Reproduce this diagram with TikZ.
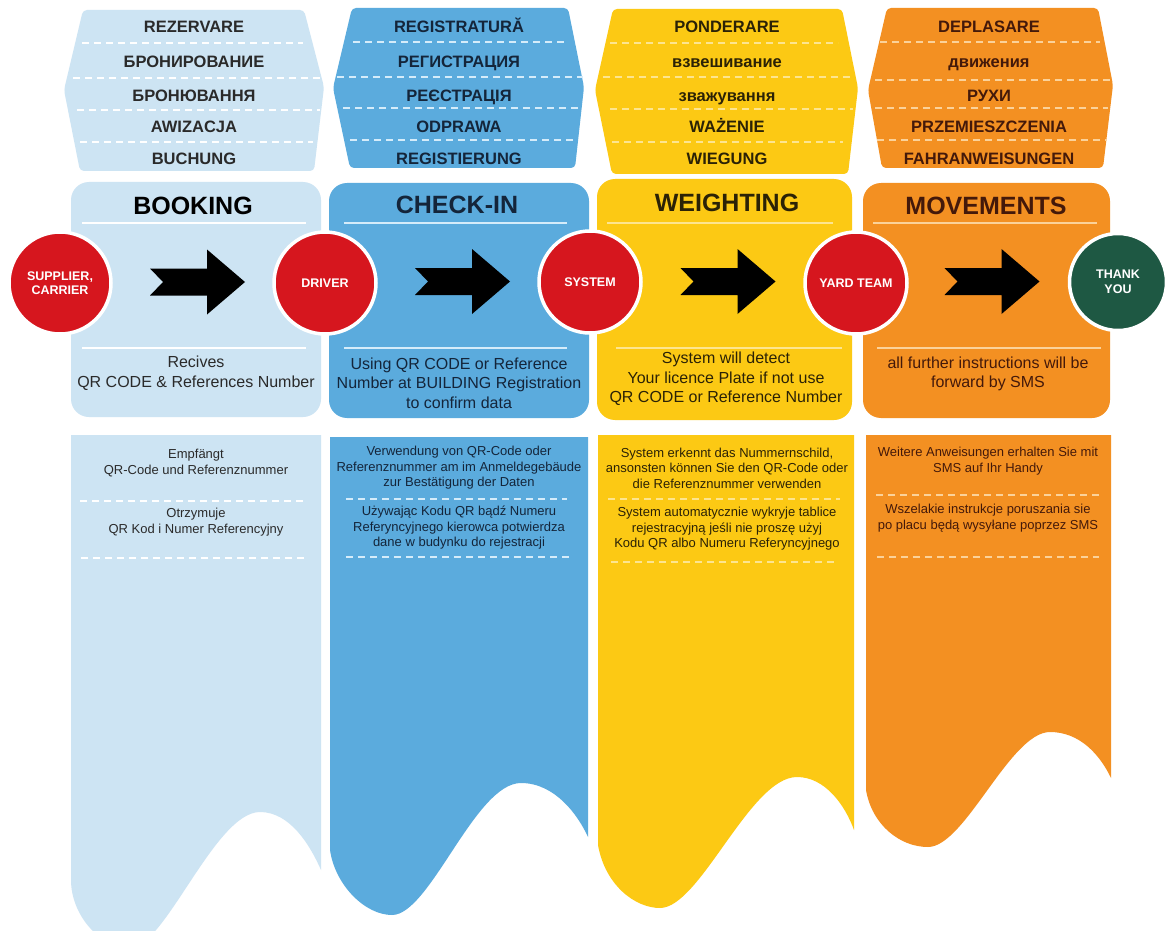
\documentclass[tikz,border=0pt]{standalone}
\usepackage{fontspec}
\setmainfont{Liberation Sans}
\usetikzlibrary{calc}
\definecolor{lblue}{HTML}{CDE4F3}
\definecolor{mblue}{HTML}{5BABDD}
\definecolor{yel}{HTML}{FCC914}
\definecolor{ora}{HTML}{F39022}
\definecolor{cred}{HTML}{D6161E}
\definecolor{cgreen}{HTML}{1E5843}
\definecolor{tA}{HTML}{2A2A2A}
\definecolor{tB}{HTML}{14253A}
\definecolor{tC}{HTML}{2B2206}
\definecolor{tD}{HTML}{44190A}
\definecolor{dA}{HTML}{FFFFFF}
\definecolor{dB}{HTML}{D5ECFA}
\definecolor{dC}{HTML}{FDE590}
\definecolor{dD}{HTML}{FBD29A}
\tikzset{
  hdr/.style={font=\fontsize{16.5}{18}\selectfont\bfseries, text height=11.8pt, text depth=0pt, inner sep=0pt},
  ttl/.style={font=\fontsize{25}{28}\selectfont\bfseries, text height=17.9pt, text depth=0pt, inner sep=0pt},
  midtxt/.style={font=\fontsize{16}{19.5}\selectfont, align=center, inner sep=0pt},
  lowtxt/.style={font=\fontsize{13}{15.5}\selectfont, align=center, inner sep=0pt},
  actor/.style={circle, minimum size=102pt, inner sep=0pt, fill=cred, draw=white, line width=3.5pt, text=white, font=\fontsize{12.5}{14.5}\selectfont\bfseries, align=center},
  sep/.style={line width=2pt, dash pattern=on 7pt off 5pt},
  rule/.style={line width=2pt},
  blockarrow/.pic={\fill[black] (-47.5,-13.5) -- (9.5,-13.5) -- (9.5,-32.5) -- (47.5,0) -- (9.5,32.5) -- (9.5,13.5) -- (-47.5,13.5) -- (-34.5,0) -- cycle;}
}
\newcommand\hdrcol[8]{%
  \node[hdr,text=#3] (h#1a) at (#2,27) {#4};
  \node[hdr,text=#3] (h#1b) at (#2,62) {#5};
  \node[hdr,text=#3] (h#1c) at (#2,96) {#6};
  \node[hdr,text=#3] (h#1d) at (#2,127) {#7};
  \node[hdr,text=#3] (h#1e) at (#2,159) {#8};
}
\begin{document}
\begin{tikzpicture}[x=1pt,y=-1pt]
\useasboundingbox (0,0) rectangle (1176,931);
\clip (0,0) rectangle (1176,931);
\fill[white] (0,0) rectangle (1176,931);

% ---------- header hexagons ----------
\fill[lblue, rounded corners=4pt] (83,10) -- (304,10) -- (324,87) -- (314,171) -- (80,171) -- (64,90) -- cycle;
\fill[mblue, rounded corners=4pt] (352,8) -- (568,8) -- (584,87) -- (575,168) -- (350,168) -- (333,88) -- cycle;
\fill[yel, rounded corners=4pt] (613,9) -- (842,9) -- (858,88) -- (848,174) -- (612,174) -- (595,90) -- cycle;
\fill[ora, rounded corners=4pt] (887,8) -- (1098,8) -- (1113,85) -- (1103,168) -- (882,168) -- (868,90) -- cycle;

% header separators
\draw[sep, dA] (82,43) -- (303,43);  \draw[sep, dA] (73,78) -- (323,78);
\draw[sep, dA] (77,110) -- (320,110); \draw[sep, dA] (80,142) -- (313,142);
\draw[sep, dB] (353,42) -- (565,42);  \draw[sep, dB] (337,77) -- (583,77);
\draw[sep, dB] (343,108) -- (582,108); \draw[sep, dB] (350,140) -- (575,140);
\draw[sep, dC] (610,43) -- (838,43);  \draw[sep, dC] (603,77) -- (853,77);
\draw[sep, dC] (610,109) -- (853,109); \draw[sep, dC] (612,142) -- (843,142);
\draw[sep, dD] (880,42) -- (1100,42); \draw[sep, dD] (875,80) -- (1112,80);
\draw[sep, dD] (875,108) -- (1108,108); \draw[sep, dD] (877,140) -- (1107,140);

\hdrcol{1}{194}{tA}{REZERVARE}{БРОНИРОВАНИЕ}{БРОНЮВАННЯ}{AWIZACJA}{BUCHUNG}
\hdrcol{2}{459}{tB}{REGISTRATURĂ}{РЕГИСТРАЦИЯ}{РЕЄСТРАЦІЯ}{ODPRAWA}{REGISTIERUNG}
\hdrcol{3}{727}{tC}{PONDERARE}{взвешивание}{зважування}{WAŻENIE}{WIEGUNG}
\hdrcol{4}{989}{tD}{DEPLASARE}{движения}{РУХИ}{PRZEMIESZCZENIA}{FAHRANWEISUNGEN}

% ---------- middle boxes ----------
\fill[lblue, rounded corners=18pt] (71,182) rectangle (321,417);
\fill[mblue, rounded corners=18pt] (329,183) rectangle (589,418);
\fill[yel, rounded corners=18pt] (597,179) rectangle (852,420);
\fill[ora, rounded corners=18pt] (863,183) rectangle (1110,418);

\draw[rule, dA] (82,223) -- (306,223);   \draw[rule, dA] (82,348) -- (306,348);
\draw[rule, dB] (344,223) -- (567,223);  \draw[rule, dB] (344,348) -- (567,348);
\draw[rule, dC] (607,223) -- (833,223);  \draw[rule, dC] (616,348) -- (842,348);
\draw[rule, dD] (873,223) -- (1097,223); \draw[rule, dD] (877,348) -- (1101,348);

\node[ttl, text=black] (t1) at (193,206) {BOOKING};
\node[ttl, text=tB] (t2) at (457,205) {CHECK-IN};
\node[ttl, text=tC] (t3) at (727,203) {WEIGHTING};
\node[ttl, text=tD] (t4) at (986,206) {MOVEMENTS};

\node[midtxt, text=tA] (m1) at (196,373) {Recives\\QR CODE \& References Number};
\node[midtxt, text=tB] (m2) at (459,383) {Using QR CODE or Reference\\Number at BUILDING Registration\\to confirm data};
\node[midtxt, text=tC] (m3) at (726,379) {System will detect\\Your licence Plate if not use\\QR CODE or Reference Number};
\node[midtxt, text=tD] (m4) at (988,374) {all further instructions will be\\forward by SMS};

% ---------- lower panels ----------
\fill[lblue] (71,435) -- (321,435) -- (321,870) .. controls (310,845) and (290,812) .. (260,812) .. controls (215,812) and (165,948) .. (130,948) .. controls (100,948) and (71,915) .. (71,880) -- cycle;
\fill[mblue] (330,437) -- (588,437) -- (588,837) .. controls (578,815) and (555,783) .. (521,783) .. controls (475,783) and (430,915) .. (392,915) .. controls (365,915) and (335,885) .. (330,850) -- cycle;
\fill[yel] (598,435) -- (854,435) -- (854,830) .. controls (845,805) and (825,777) .. (797,777) .. controls (750,777) and (700,908) .. (660,908) .. controls (635,908) and (605,885) .. (598,845) -- cycle;
\fill[ora] (866,435) -- (1111,435) -- (1111,778) .. controls (1100,755) and (1080,732) .. (1050,732) .. controls (1010,732) and (965,847) .. (928,847) .. controls (900,847) and (872,825) .. (866,790) -- cycle;

\draw[sep, dA] (80,501) -- (303,501);  \draw[sep, dA] (81,558) -- (306,558);
\draw[sep, dB] (346,499) -- (567,499); \draw[sep, dB] (346,557) -- (569,557);
\draw[sep, dC] (608,499) -- (840,499); \draw[sep, dC] (611,562) -- (836,562);
\draw[sep, dD] (876,495) -- (1099,495); \draw[sep, dD] (877,557) -- (1099,557);

\node[lowtxt, text=tA] (l1a) at (196,463) {Empfängt\\QR-Code und Referenznummer};
\node[lowtxt, text=tA] (l1b) at (196,522) {Otrzymuje\\QR Kod i Numer Referencyjny};
\node[lowtxt, text=tB] (l2a) at (459,468) {Verwendung von QR-Code oder\\Referenznummer am im Anmeldegebäude\\zur Bestätigung der Daten};
\node[lowtxt, text=tB] (l2b) at (459,528) {Używając Kodu QR bądź Numeru\\Referyncyjnego kierowca potwierdza\\dane w budynku do rejestracji};
\node[lowtxt, text=tC] (l3a) at (727,468) {System erkennt das Nummernschild,\\ansonsten können Sie den QR-Code oder\\die Referenznummer verwenden};
\node[lowtxt, text=tC] (l3b) at (727,529) {System automatycznie wykryje tablice\\rejestracyjną jeśli nie proszę użyj\\Kodu QR albo Numeru Referyncyjnego};
\node[lowtxt, text=tD] (l4a) at (988,461) {Weitere Anweisungen erhalten Sie mit\\SMS auf Ihr Handy};
\node[lowtxt, text=tD] (l4b) at (988,518) {Wszelakie instrukcje poruszania sie\\po placu będą wysyłane poprzez SMS};

% ---------- actors ----------
\node[actor] (c1) at (60,283) {SUPPLIER,\\CARRIER};
\node[actor] (c2) at (325,283) {DRIVER};
\node[actor] (c3) at (590,282) {SYSTEM};
\node[actor] (c4) at (856,283) {YARD TEAM};
\node[actor, fill=cgreen, minimum size=97pt] (c5) at (1118,282) {THANK\\YOU};

\pic at ($(c1)!0.5!(c2)+(5,-1)$) {blockarrow};
\pic at ($(c2)!0.5!(c3)+(5,-1)$) {blockarrow};
\pic at ($(c3)!0.5!(c4)+(5,-1)$) {blockarrow};
\pic at ($(c4)!0.5!(c5)+(5,-1)$) {blockarrow};
\end{tikzpicture}
\end{document}
